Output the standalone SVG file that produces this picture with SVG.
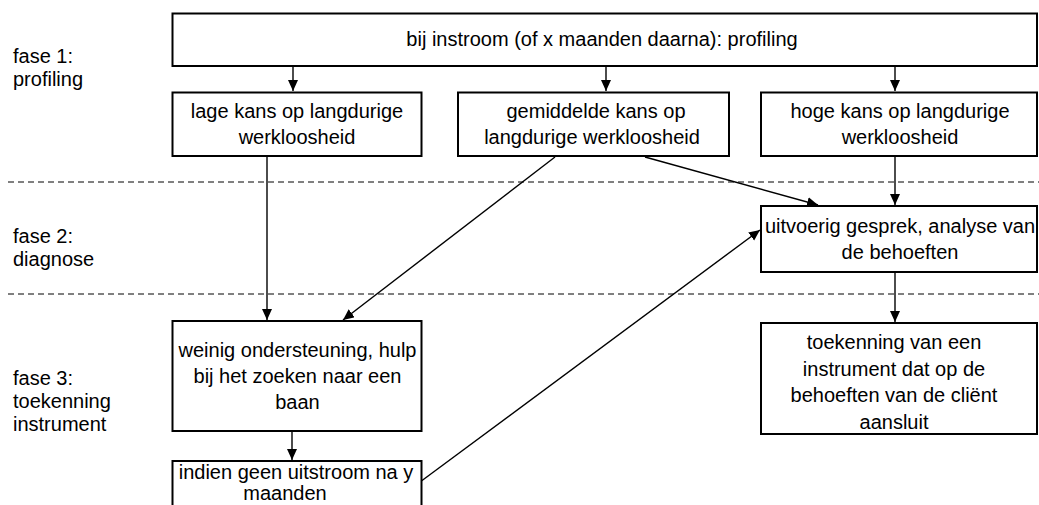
<svg xmlns="http://www.w3.org/2000/svg" width="1039" height="505" viewBox="0 0 1039 505">
<style>
.box{fill:#fff;stroke:#000;stroke-width:2}
.t{font-family:"Liberation Sans",Arial,sans-serif;font-size:20px;fill:#000;text-anchor:middle}
.lbl{font-family:"Liberation Sans",Arial,sans-serif;font-size:20px;fill:#000}
.c{fill:none;stroke:#000;stroke-width:1.4}
.dash{fill:none;stroke:#000;stroke-width:1;stroke-dasharray:6 4}
</style>
<defs>
<marker id="ah" markerUnits="userSpaceOnUse" markerWidth="12" markerHeight="11" refX="11" refY="5" orient="auto">
<path d="M0,0 L11,5 L0,10 z" fill="#000"/>
</marker>
</defs>
<g id="phases">
<line class="dash" x1="8" y1="182" x2="1039" y2="182"/>
<line class="dash" x1="8" y1="294" x2="1039" y2="294"/>
<text class="lbl" x="13" y="63">fase 1:</text>
<text class="lbl" x="13" y="86">profiling</text>
<text class="lbl" x="13" y="243">fase 2:</text>
<text class="lbl" x="13" y="266">diagnose</text>
<text class="lbl" x="13" y="385">fase 3:</text>
<text class="lbl" x="13" y="408">toekenning</text>
<text class="lbl" x="13" y="431">instrument</text>
</g>
<g id="connectors">
<line class="c" x1="293" y1="66" x2="293" y2="91" marker-end="url(#ah)"/>
<line class="c" x1="606" y1="66" x2="606" y2="91" marker-end="url(#ah)"/>
<line class="c" x1="895" y1="66" x2="895" y2="91" marker-end="url(#ah)"/>
<line class="c" x1="267" y1="156" x2="267" y2="320" marker-end="url(#ah)"/>
<line class="c" x1="555" y1="157" x2="343" y2="320" marker-end="url(#ah)"/>
<line class="c" x1="645" y1="157" x2="818" y2="205" marker-end="url(#ah)"/>
<line class="c" x1="895" y1="156" x2="895" y2="205" marker-end="url(#ah)"/>
<line class="c" x1="895" y1="272" x2="895" y2="322" marker-end="url(#ah)"/>
<line class="c" x1="292" y1="431" x2="292" y2="460" marker-end="url(#ah)"/>
<line class="c" x1="420" y1="482" x2="760" y2="230" marker-end="url(#ah)"/>
</g>
<g id="n-top">
<rect class="box" x="172.5" y="13.5" width="864.5" height="52.5"/>
<text class="t" x="602" y="46">bij instroom (of x maanden daarna): profiling</text>
</g>
<g id="n-lage">
<rect class="box" x="172.5" y="92.5" width="249" height="63.5"/>
<text class="t" x="297" y="118">lage kans op langdurige</text>
<text class="t" x="297" y="144">werkloosheid</text>
</g>
<g id="n-gemiddelde">
<rect class="box" x="458" y="92.5" width="271" height="63.5"/>
<text class="t" x="596" y="118">gemiddelde kans op</text>
<text class="t" x="592" y="144">langdurige werkloosheid</text>
</g>
<g id="n-hoge">
<rect class="box" x="761" y="92.5" width="276" height="63.5"/>
<text class="t" x="900" y="118">hoge kans op langdurige</text>
<text class="t" x="900" y="144">werkloosheid</text>
</g>
<g id="n-uitvoerig">
<rect class="box" x="761" y="206" width="276" height="66"/>
<text class="t" x="900" y="233">uitvoerig gesprek, analyse van</text>
<text class="t" x="900" y="259">de behoeften</text>
</g>
<g id="n-toekenning">
<rect class="box" x="761" y="323" width="276" height="111"/>
<text class="t" x="894" y="349">toekenning van een</text>
<text class="t" x="894" y="375.5">instrument dat op de</text>
<text class="t" x="894" y="402">behoeften van de cliënt</text>
<text class="t" x="894" y="428.5">aansluit</text>
</g>
<g id="n-weinig">
<rect class="box" x="172.5" y="321" width="249" height="110"/>
<text class="t" x="297.5" y="357">weinig ondersteuning, hulp</text>
<text class="t" x="297.5" y="383">bij het zoeken naar een</text>
<text class="t" x="297.5" y="409">baan</text>
</g>
<g id="n-indien">
<rect class="box" x="172.5" y="461" width="249" height="50"/>
<text class="t" x="296" y="479">indien geen uitstroom na y</text>
<text class="t" x="285" y="500">maanden</text>
</g>
</svg>
